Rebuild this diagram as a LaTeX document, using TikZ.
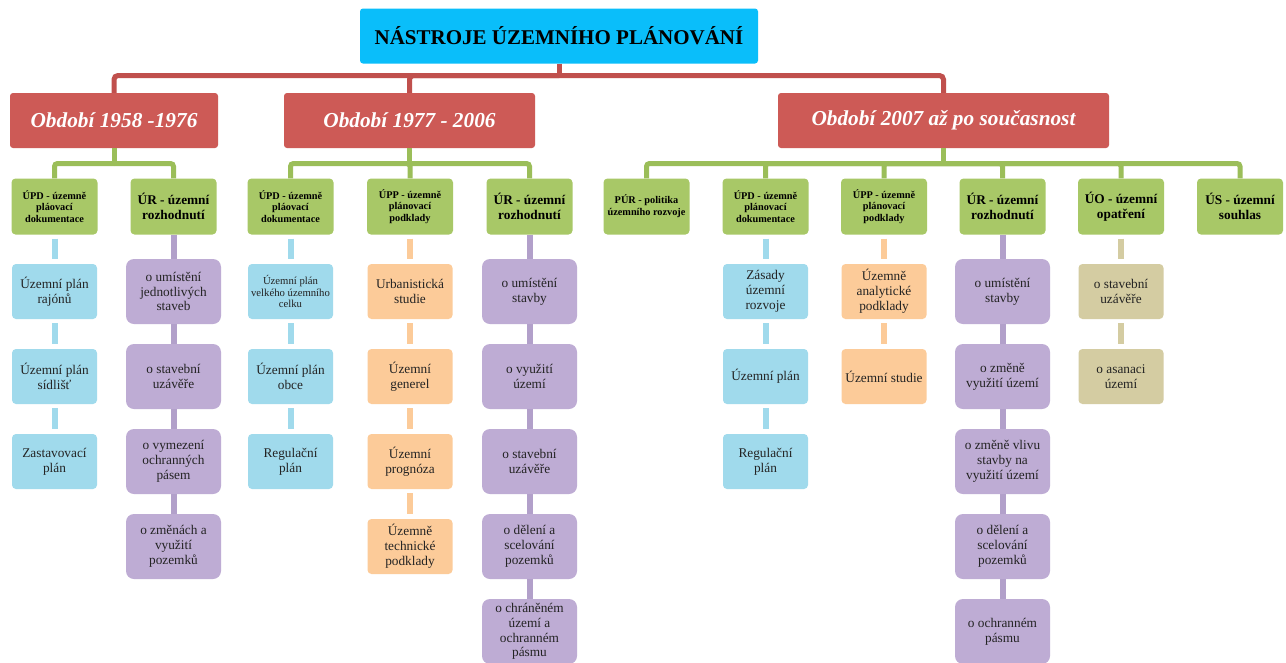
\documentclass[tikz,border=0pt]{standalone}
\usepackage{fontspec}
\setmainfont{Liberation Serif}
\definecolor{titlec}{RGB}{10,190,250}
\definecolor{redc}{RGB}{205,90,86}
\definecolor{redl}{RGB}{192,80,77}
\definecolor{greenc}{RGB}{168,200,103}
\definecolor{greenl}{RGB}{155,190,89}
\definecolor{bluec}{RGB}{160,218,236}
\definecolor{orangec}{RGB}{252,203,153}
\definecolor{purplec}{RGB}{190,172,212}
\definecolor{purplel}{RGB}{178,160,202}
\definecolor{tanc}{RGB}{212,204,162}
\definecolor{txt}{RGB}{35,35,35}
\tikzset{
  titlebox/.style={fill=titlec, rounded corners=3pt, minimum width=398pt, minimum height=55pt, inner sep=0pt, font=\fontsize{21}{24}\selectfont\bfseries},
  period/.style={fill=redc, rounded corners=3pt, minimum height=55pt, inner sep=0pt, text=white, font=\fontsize{21.3}{24}\selectfont\bfseries\itshape},
  gbox/.style={fill=greenc, rounded corners=4pt, minimum width=86pt, minimum height=56pt, align=center, inner sep=0pt},
  gsmall/.style={gbox, font=\fontsize{10.3}{11.8}\selectfont\bfseries},
  gbig/.style={gbox, font=\fontsize{13.3}{14.6}\selectfont\bfseries},
  child/.style={rounded corners=4pt, minimum width=85pt, minimum height=55pt, align=center, inner sep=0pt, text=txt, font=\fontsize{13.3}{14.8}\selectfont},
  bbox/.style={child, fill=bluec},
  bsmall/.style={bbox, font=\fontsize{10.7}{11.2}\selectfont},
  obox/.style={child, fill=orangec},
  tbox/.style={child, fill=tanc},
  pbox/.style={child, fill=purplec, rounded corners=8pt, minimum width=95pt, minimum height=65pt},
  redline/.style={draw=redl, line width=5pt, rounded corners=4pt},
  grnline/.style={draw=greenl, line width=5pt, rounded corners=3pt},
  bline/.style={draw=bluec, line width=6pt, shorten >=5pt, shorten <=4pt},
  oline/.style={draw=orangec, line width=6pt, shorten >=5pt, shorten <=4pt},
  tline/.style={draw=tanc, line width=6pt, shorten >=5pt, shorten <=4pt},
  pline/.style={draw=purplel, line width=6pt}
}
\begin{document}
\begin{tikzpicture}[x=1pt,y=-1pt]
\useasboundingbox[fill=white] (0,0) rectangle (1286,662);
% title and periods
\node[titlebox] (title) at (559,36) {NÁSTROJE ÚZEMNÍHO PLÁNOVÁNÍ};
\node[period, minimum width=208pt] (p1) at (114,120.5) {Období 1958 -1976};
\node[period, minimum width=251pt] (p2) at (409.5,120.5) {Období 1977 - 2006};
\node[period, minimum width=331pt] (p3) at (943.5,120.5) {Období 2007 až po současnost};
\coordinate (rj) at (559,75.5);
\draw[redline] (title.south) -- (rj);
\draw[redline] (rj) -| (p1.north);
\draw[redline] (rj) -| (p2.north);
\draw[redline] (rj) -| (p3.north);
% green boxes
\node[gsmall] (a1) at (54.5,206.5) {ÚPD - územně\\pláovací\\dokumentace};
\node[gbig]   (a2) at (173.5,206.5) {ÚR - územní\\rozhodnutí};
\node[gsmall] (b1) at (290.5,206.5) {ÚPD - územně\\pláovací\\dokumentace};
\node[gsmall] (b2) at (410,206.5) {ÚPP - územně\\plánovací\\podklady};
\node[gbig]   (b3) at (529.5,206.5) {ÚR - územní\\rozhodnutí};
\node[gsmall] (c1) at (646.5,206.5) {PÚR - politika\\územního rozvoje};
\node[gsmall] (c2) at (765.5,206.5) {ÚPD - územně\\plánovací\\dokumentace};
\node[gsmall] (c3) at (884,206.5) {ÚPP - územně\\plánovací\\podklady};
\node[gbig]   (c4) at (1002.5,206.5) {ÚR - územní\\rozhodnutí};
\node[gbig]   (c5) at (1121,206.5) {ÚO - územní\\opatření};
\node[gbig]   (c6) at (1240,206.5) {ÚS - územní\\souhlas};
\coordinate (gj1) at (114,163.5);
\coordinate (gj2) at (409.5,163.5);
\coordinate (gj3) at (943.5,163.5);
\draw[grnline] (p1.south) -- (gj1);
\draw[grnline] (p2.south) -- (gj2);
\draw[grnline] (p3.south) -- (gj3);
\foreach \n in {a1,a2} {\draw[grnline] (gj1) -| (\n.north);}
\foreach \n in {b1,b2,b3} {\draw[grnline] (gj2) -| (\n.north);}
\foreach \n in {c1,c2,c3,c4,c5,c6} {\draw[grnline] (gj3) -| (\n.north);}
% period 1 children
\node[bbox] (a11) at (54.5,291.5) {Územní plán\\rajónů};
\node[bbox] (a12) at (54.5,376.5) {Územní plán\\sídlišť};
\node[bbox] (a13) at (54.5,461.5) {Zastavovací\\plán};
\draw[bline] (a1.south) -- (a11.north);
\draw[bline] (a11.south) -- (a12.north);
\draw[bline] (a12.south) -- (a13.north);
\node[pbox] (a21) at (173.5,291.5) {o umístění\\jednotlivých\\staveb};
\node[pbox] (a22) at (173.5,376.5) {o stavební\\uzávěře};
\node[pbox] (a23) at (173.5,461.5) {o vymezení\\ochranných\\pásem};
\node[pbox] (a24) at (173.5,546.5) {o změnách a\\využití\\pozemků};
\draw[pline] (a2.south) -- (a21.north);
\draw[pline] (a21.south) -- (a22.north);
\draw[pline] (a22.south) -- (a23.north);
\draw[pline] (a23.south) -- (a24.north);
% period 2 children
\node[bsmall] (b11) at (290.5,291.5) {Územní plán\\velkého územního\\celku};
\node[bbox] (b12) at (290.5,376.5) {Územní plán\\obce};
\node[bbox] (b13) at (290.5,461.5) {Regulační\\plán};
\draw[bline] (b1.south) -- (b11.north);
\draw[bline] (b11.south) -- (b12.north);
\draw[bline] (b12.south) -- (b13.north);
\node[obox] (b21) at (410,291.5) {Urbanistická\\studie};
\node[obox] (b22) at (410,376.5) {Územní\\generel};
\node[obox] (b23) at (410,461.5) {Územní\\prognóza};
\node[obox] (b24) at (410,546.5) {Územně\\technické\\podklady};
\draw[oline] (b2.south) -- (b21.north);
\draw[oline] (b21.south) -- (b22.north);
\draw[oline] (b22.south) -- (b23.north);
\draw[oline] (b23.south) -- (b24.north);
\node[pbox] (b31) at (529.5,291.5) {o umístění\\stavby};
\node[pbox] (b32) at (529.5,376.5) {o využití\\území};
\node[pbox] (b33) at (529.5,461.5) {o stavební\\uzávěře};
\node[pbox] (b34) at (529.5,546.5) {o dělení a\\scelování\\pozemků};
\node[pbox] (b35) at (529.5,631.5) {o chráněném\\území a\\ochranném\\pásmu};
\draw[pline] (b3.south) -- (b31.north);
\draw[pline] (b31.south) -- (b32.north);
\draw[pline] (b32.south) -- (b33.north);
\draw[pline] (b33.south) -- (b34.north);
\draw[pline] (b34.south) -- (b35.north);
% period 3 children
\node[bbox] (c21) at (765.5,291.5) {Zásady\\územní\\rozvoje};
\node[bbox] (c22) at (765.5,376.5) {Územní plán};
\node[bbox] (c23) at (765.5,461.5) {Regulační\\plán};
\draw[bline] (c2.south) -- (c21.north);
\draw[bline] (c21.south) -- (c22.north);
\draw[bline] (c22.south) -- (c23.north);
\node[obox] (c31) at (884,291.5) {Územně\\analytické\\podklady};
\node[obox] (c32) at (884,376.5) {Územní studie};
\draw[oline] (c3.south) -- (c31.north);
\draw[oline] (c31.south) -- (c32.north);
\node[pbox] (c41) at (1002.5,291.5) {o umístění\\stavby};
\node[pbox] (c42) at (1002.5,376.5) {o změně\\využití území};
\node[pbox] (c43) at (1002.5,461.5) {o změně vlivu\\stavby na\\využití území};
\node[pbox] (c44) at (1002.5,546.5) {o dělení a\\scelování\\pozemků};
\node[pbox] (c45) at (1002.5,631.5) {o ochranném\\pásmu};
\draw[pline] (c4.south) -- (c41.north);
\draw[pline] (c41.south) -- (c42.north);
\draw[pline] (c42.south) -- (c43.north);
\draw[pline] (c43.south) -- (c44.north);
\draw[pline] (c44.south) -- (c45.north);
\node[tbox] (c51) at (1121,291.5) {o stavební\\uzávěře};
\node[tbox] (c52) at (1121,376.5) {o asanaci\\území};
\draw[tline] (c5.south) -- (c51.north);
\draw[tline] (c51.south) -- (c52.north);
\end{tikzpicture}
\end{document}
